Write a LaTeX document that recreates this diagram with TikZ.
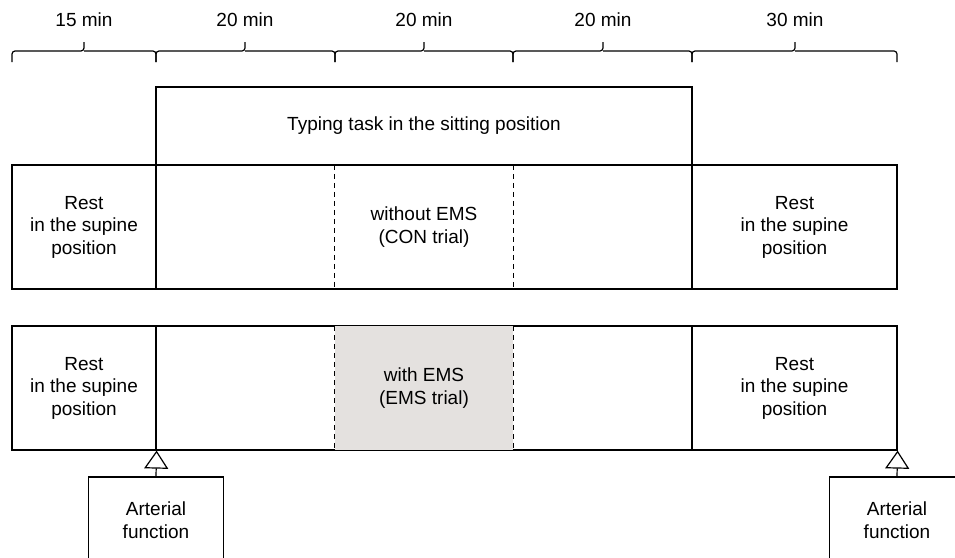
\documentclass[tikz,border=0pt]{standalone}
\usepackage{fontspec}
\setmainfont{Liberation Sans}
\usetikzlibrary{positioning,arrows.meta}
\definecolor{figGris}{RGB}{228,225,223}

\begin{document}
\begin{tikzpicture}[
  x=1pt, y=-1pt,
  every node/.style={font=\fontsize{19}{22.5}\selectfont},
  box/.style={draw=black, line width=1.2pt, minimum height=124pt, align=center,
              inner sep=0pt},
  mid/.style={minimum height=124pt, align=center, inner sep=0pt},
  art/.style={draw=black, line width=1.2pt, minimum width=135pt, minimum height=86pt,
              align=center, inner sep=0pt},
  brk/.style={line width=1.2pt, rounded corners=3pt},
  sep/.style={line width=1pt, dashed, dash pattern=on 5pt off 4pt},
  up/.style={-{Triangle[open, length=18pt, width=24pt, line width=1.2pt]}, line width=1.2pt}
]
\useasboundingbox (0,0) rectangle (955,557);
\clip (0,0) rectangle (955,557);

% time scale
\draw[brk] (12,62) -- (12,51) -- (84,51) -- (84,42) (84,51) -- (156,51) -- (156,62);
\draw[brk] (156,62) -- (156,51) -- (245,51) -- (245,42) (245,51) -- (335,51) -- (335,62);
\draw[brk] (335,62) -- (335,51) -- (424,51) -- (424,42) (424,51) -- (513,51) -- (513,62);
\draw[brk] (513,62) -- (513,51) -- (603,51) -- (603,42) (603,51) -- (692,51) -- (692,62);
\draw[brk] (692,62) -- (692,51) -- (795,51) -- (795,42) (795,51) -- (897,51) -- (897,62);

\node (t1) at (84,20)  {15 min};
\node (t2) at (245,20) {20 min};
\node (t3) at (424,20) {20 min};
\node (t4) at (603,20) {20 min};
\node (t5) at (795,20) {30 min};

% typing task
\node[box, minimum width=536pt, minimum height=78pt] (typ) at (424,126)
  {Typing task in the sitting position};

% CON trial
\node[box, minimum width=144pt] (restA) at (84,227)  {Rest\\in the supine\\position};
\node[box, minimum width=536pt] (con)   at (424,227) {};
\node[mid, minimum width=178pt] (conM)  at (424,227) {without EMS\\(CON trial)};
\node[box, minimum width=205pt] (restB) at (794.5,227) {Rest\\in the supine\\position};
\draw[sep] (conM.north west) -- (conM.south west);
\draw[sep] (conM.north east) -- (conM.south east);

% EMS trial
\node[box, minimum width=144pt] (restC) at (84,388)  {Rest\\in the supine\\position};
\node[box, minimum width=536pt] (ems)   at (424,388) {};
\node[mid, minimum width=178pt, fill=figGris] (emsM) at (424,388) {with EMS\\(EMS trial)};
\node[box, minimum width=205pt] (restD) at (794.5,388) {Rest\\in the supine\\position};
\draw[sep] (emsM.north west) -- (emsM.south west);
\draw[sep] (emsM.north east) -- (emsM.south east);

% measurements
\node[art] (art1) at (156,520) {Arterial\\function};
\node[art] (art2) at (897,520) {Arterial\\function};
\draw[up] (art1.north) -- (restC.south east);
\draw[up] (art2.north) -- (restD.south east);

\end{tikzpicture}
\end{document}
